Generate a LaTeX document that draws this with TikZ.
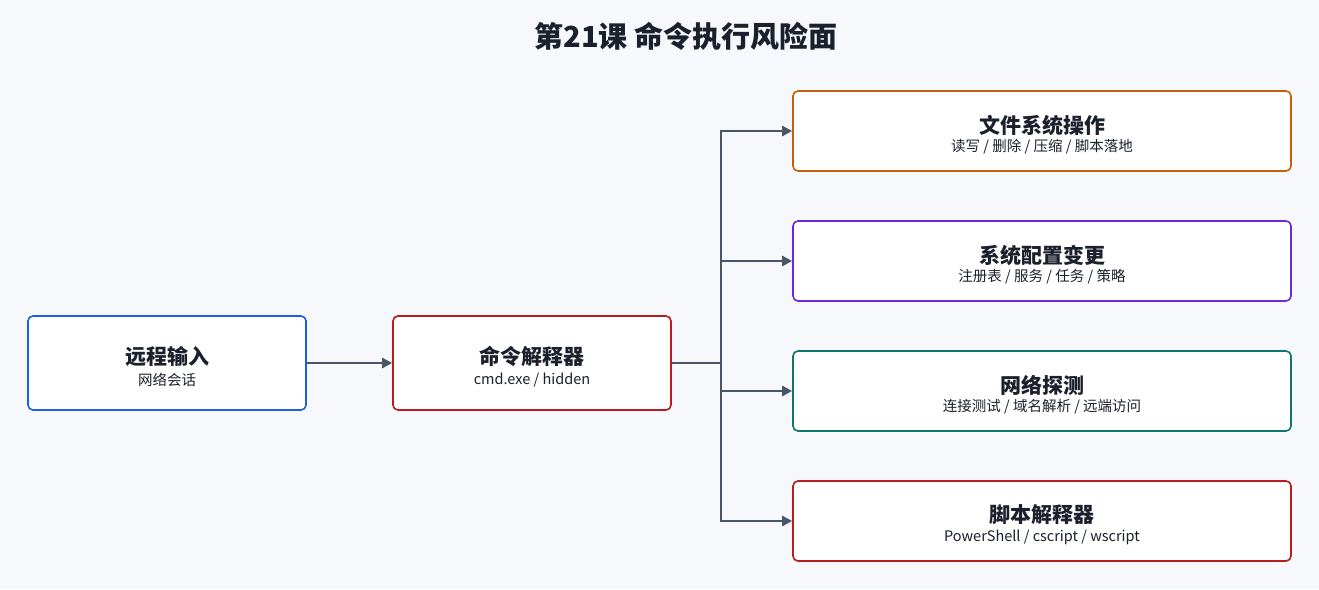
\documentclass[tikz,border=0pt]{standalone}
\usepackage{fontspec}
\setmainfont{Noto Sans CJK SC}
\usetikzlibrary{arrows.meta}
\definecolor{bg}{HTML}{F7F8FB}
\definecolor{ln}{HTML}{4A5568}
\definecolor{txt}{HTML}{1A202C}
\definecolor{cblue}{HTML}{1D5FE0}
\definecolor{cred}{HTML}{B91C1C}
\definecolor{corange}{HTML}{C2610C}
\definecolor{cpurple}{HTML}{6D28D9}
\definecolor{cgreen}{HTML}{0F766E}
\begin{document}
\begin{tikzpicture}[x=1pt,y=-1pt,
  box/.style={draw=#1,line width=1.6pt,rounded corners=5pt,fill=white,inner sep=0pt},
  conn/.style={draw=ln,line width=2.8pt,-{Triangle[length=10pt,width=10pt]}},
  t/.style={font=\bfseries\fontsize{21}{23}\selectfont,text=txt},
  s/.style={font=\fontsize{14.5}{16}\selectfont,text=txt}]
\fill[bg] (0,0) rectangle (1319,589);
\useasboundingbox (0,0) rectangle (1319,589);
\node[font=\bfseries\fontsize{29}{32}\selectfont,text=txt] (title) at (686,36) {第21课 命令执行风险面};
\node[box=cblue,minimum width=278pt,minimum height=94pt] (a) at (167,363) {};
\node[t] (at) at (167,356) {远程输入}; \node[s] (as) at (167,380) {网络会话};
\node[box=cred,minimum width=278pt,minimum height=94pt] (b) at (532,363) {};
\node[t] (bt) at (532,356) {命令解释器}; \node[s] (bs) at (532,380) {cmd.exe / hidden};
\foreach \n/\y/\c/\tt/\ss in {r1/131/corange/文件系统操作/{读写 / 删除 / 压缩 / 脚本落地},
  r2/261/cpurple/系统配置变更/{注册表 / 服务 / 任务 / 策略},
  r3/391/cgreen/网络探测/{连接测试 / 域名解析 / 远端访问},
  r4/521/cred/脚本解释器/{PowerShell / cscript / wscript}}{
  \node[box=\c,minimum width=498pt,minimum height=80pt] (\n) at (1042,\y) {};
  \node[t] (\n t) at (1042,\y-6) {\tt};
  \node[s] (\n s) at (1042,\y+16) {\ss};
}
\coordinate (j) at (721,363);
\draw[conn] (a) -- (b);
\draw[draw=ln,line width=2.8pt] (b) -- (j);
\foreach \n in {r1,r2,r3,r4}{
  \draw[conn] (j) |- (\n.west);
}
\end{tikzpicture}
\end{document}
